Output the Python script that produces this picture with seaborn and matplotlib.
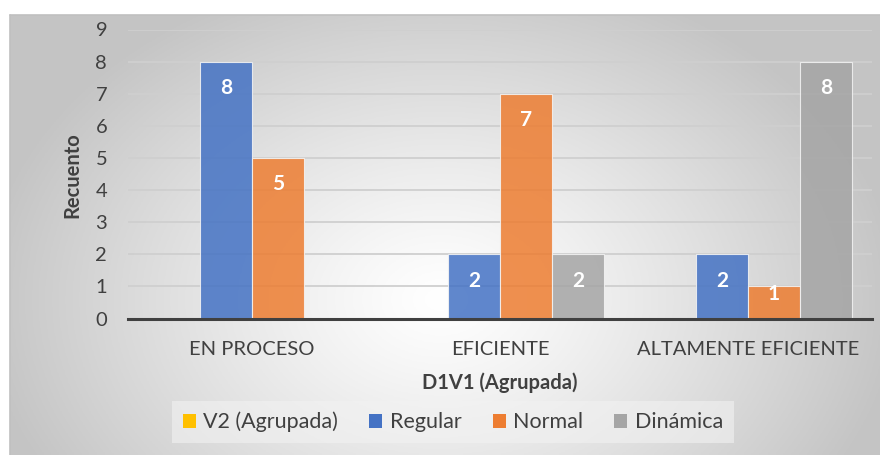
import numpy as np
import pandas as pd
import matplotlib
matplotlib.use("Agg")
import matplotlib.pyplot as plt
import matplotlib.patches as mpatches
import seaborn as sns

# ---- data ----
categories = ["EN PROCESO", "EFICIENTE", "ALTAMENTE EFICIENTE"]
series = ["V2 (Agrupada)", "Regular", "Normal", "Dinámica"]
v2_vals = [0, 0, 0]
regular_vals = [8, 2, 2]
normal_vals = [5, 7, 1]
dinamica_vals = [0, 2, 8]
y_ticks = list(range(0, 10))

colors = {"V2 (Agrupada)": "#FFC000", "Regular": "#4472C4",
          "Normal": "#ED7D31", "Dinámica": "#A5A5A5"}

rows = []
for s, vals in zip(series, [v2_vals, regular_vals, normal_vals, dinamica_vals]):
    for c, v in zip(categories, vals):
        rows.append({"cat": c, "serie": s, "val": v})
df = pd.DataFrame(rows)

sns.set_theme(style="white")
plt.rcParams["font.family"] = ["Lato", "DejaVu Sans"]
TXT = "#404040"
FS = 14.5

W, H = 880, 455
fig = plt.figure(figsize=(W / 100, H / 100), dpi=100)
fig.patch.set_facecolor("white")

# background gradient panel
x0, y0 = 10, 15
bg = fig.add_axes([x0 / W, 0, 1 - x0 / W, 1 - y0 / H])
bg.set_axis_off()
xs = np.linspace(x0, W, 300)
ys = np.linspace(y0, H, 160)
X, Y = np.meshgrid(xs, ys)
r = np.sqrt(((X - 440) / 460) ** 2 + ((Y - 300) / 340) ** 2)
g = 1 - 0.23 * np.clip(r, 0, 1) ** 1.2
img = np.dstack([g, g, g])
bg.imshow(img, aspect="auto", extent=[0, 1, 0, 1], origin="upper")
bg.set_xlim(0, 1)
bg.set_ylim(0, 1)
bg.plot([0, 1], [1, 1], color="#c0c0c0", lw=1.2, transform=bg.transAxes, clip_on=False)
bg.plot([0, 0], [0, 1], color="#c0c0c0", lw=1.2, transform=bg.transAxes, clip_on=False)

left, right = 128 / W, 872 / W
bottom = 1 - 318.5 / H
top = 1 - 29.5 / H
ax = fig.add_axes([left, bottom, right - left, top - bottom])
ax.patch.set_alpha(0)

sns.barplot(data=df, x="cat", y="val", hue="serie", order=categories,
            hue_order=series, palette=colors, saturation=1, width=0.84,
            alpha=0.85, edgecolor="#f4f4f4", linewidth=0.8, ax=ax, legend=False,
            zorder=3)

ax.set_ylim(0, 9)
ax.set_xlim(-0.5, 2.5)
ax.set_yticks(y_ticks)
ax.yaxis.grid(True, color="#cfcfcf", lw=1.3, zorder=0)
ax.set_axisbelow(True)
for sp in ["left", "right", "top"]:
    ax.spines[sp].set_visible(False)
ax.spines["bottom"].set_color(TXT)
ax.spines["bottom"].set_linewidth(2.2)
ax.spines["bottom"].set_zorder(5)

ax.tick_params(axis="y", length=0, pad=15, labelsize=FS, labelcolor=TXT)
ax.tick_params(axis="x", which="major", length=0, pad=16, labelsize=FS, labelcolor=TXT)
ax.set_xticks([-0.5, 0.5, 1.5, 2.5], minor=True)
ax.tick_params(axis="x", which="minor", length=5, width=2, color=TXT, direction="out")

# data labels
for cont in ax.containers:
    for patch in cont:
        v = patch.get_height()
        if v <= 0:
            continue
        cx = patch.get_x() + patch.get_width() / 2
        yy = v - 0.82 if v >= 2 else v - 0.23
        ax.text(cx, yy, f"{int(v)}", ha="center", va="center", color="white",
                fontsize=15, fontweight="bold", zorder=6)

ax.set_xlabel("D1V1 (Agrupada)", fontsize=FS, fontweight="bold", color=TXT)
ax.xaxis.set_label_coords(0.5, (318.5 - 383) / 289)
ax.xaxis.label.set_va("center")
ax.set_ylabel("Recuento", fontsize=FS, fontweight="bold", color=TXT)
ax.yaxis.set_label_coords((72 - 128) / 744, (318.5 - 175) / 289)
ax.yaxis.label.set_va("center")

handles = [mpatches.Patch(facecolor=colors[s], edgecolor="none") for s in series]
leg = fig.legend(handles, series, loc="center", bbox_to_anchor=(453 / W, 1 - 422 / H),
                 ncol=4, frameon=True, fontsize=15.5, handlelength=0.6,
                 handleheight=0.6, handletextpad=0.35, columnspacing=1.45,
                 borderpad=0.5, fancybox=False)
leg.get_frame().set_facecolor("#f2f2f2")
leg.get_frame().set_alpha(0.6)
leg.get_frame().set_edgecolor("none")
for t in leg.get_texts():
    t.set_color(TXT)

fig.savefig("out.png", dpi=100)
